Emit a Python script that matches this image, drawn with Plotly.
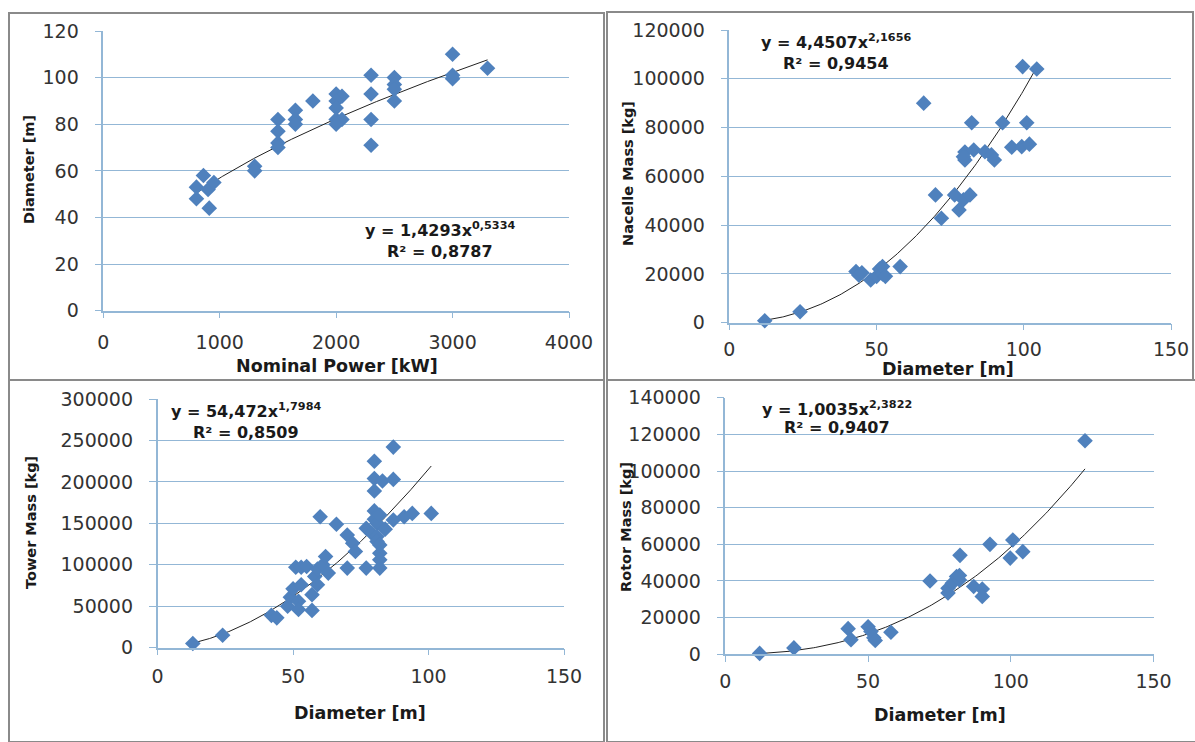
import numpy as np
import plotly.graph_objects as go

# ---------------- data ----------------
power_kw = [800, 800, 860, 900, 910, 950, 1300, 1300, 1500, 1500, 1500, 1500,
            1650, 1650, 1650, 1800, 2000, 2050, 2000, 2000, 2000, 2050, 2000,
            2300, 2300, 2300, 2300, 2500, 2500, 2500, 2500, 3000, 3000, 3000, 3300]
power_diam = [48, 53, 58, 52, 44, 55, 62, 60, 82, 77, 72, 70,
              86, 82, 80, 90, 93, 92, 90, 87, 82, 82, 80,
              101, 93, 82, 71, 100, 97, 95, 90, 110, 101, 99.5, 104]

nacelle_diam = [12, 24, 43, 44, 45, 48, 50, 51, 52, 52, 53, 58, 66, 70, 72, 76.5,
                78, 79.5, 80, 80, 79.5, 81.7, 82.3, 83, 86.8, 89, 90, 92.8, 95.9,
                99.3, 101.9, 101, 99.6, 104.4]
nacelle_mass = [800, 4500, 21000, 19500, 20500, 17500, 19000, 22000, 20000, 23000,
                19000, 23000, 90000, 52400, 42800, 52400, 46200, 50400, 70000, 66700,
                68000, 52400, 82000, 70800, 70100, 68800, 66700, 82000, 71900, 72200,
                73200, 82000, 105000, 104000]

tower_diam = [13, 24, 42, 44, 48, 49, 50, 51, 52, 52, 53, 53, 55, 57, 57, 58, 59, 59,
              60, 61, 62, 63, 66, 70, 70, 72, 73, 77, 77, 79, 80, 80, 80, 80, 80, 81,
              81, 81, 82, 82, 82, 82, 82, 83, 84, 87, 87, 87, 91, 94, 101]
tower_mass = [5000, 15000, 39000, 36000, 50000, 61000, 71000, 97000, 56000, 46000,
              76000, 97000, 98000, 45000, 64000, 86000, 76000, 95000, 158000, 100000,
              110000, 90000, 149000, 136000, 96000, 126000, 116000, 96000, 144000,
              138000, 225000, 204000, 189000, 165000, 155000, 150000, 134000, 128000,
              124000, 114000, 106000, 96000, 160000, 201000, 143000, 242000, 203000,
              154000, 158000, 162000, 162000]

rotor_diam = [12, 24, 43, 44, 50, 51, 52, 52.5, 58, 71.7, 78, 78, 79.5, 81, 82, 82,
              82.2, 87, 90, 90, 92.7, 99.8, 100.7, 104.2, 126]
rotor_mass = [500, 3500, 14000, 8000, 15000, 12500, 9000, 7500, 12000, 40000, 33500,
              36000, 38700, 42400, 40600, 43000, 54000, 37000, 35600, 31600, 60000,
              52500, 62400, 56000, 116500]

# trend-line coefficients shown on the chart (y = a * x^b)
fit_power = (1.4293, 0.5334)
fit_nacelle = (4.4507, 2.1656)
fit_tower = (54.472, 1.7984)
fit_rotor = (1.0035, 2.3822)

eq_texts = [
    ("y = 1,4293x<sup>0,5334</sup>", "R² = 0,8787"),
    ("y = 4,4507x<sup>2,1656</sup>", "R² = 0,9454"),
    ("y = 54,472x<sup>1,7984</sup>", "R² = 0,8509"),
    ("y = 1,0035x<sup>2,3822</sup>", "R² = 0,9407"),
]
x_titles = ["Nominal Power [kW]", "Diameter [m]", "Diameter [m]", "Diameter [m]"]
y_titles = ["Diameter [m]", "Nacelle Mass [kg]", "Tower Mass [kg]", "Rotor Mass [kg]"]

# ---------------- layout geometry (pixels) ----------------
W, H = 1195, 742
def px(x):
    return x / W
def py(y):
    return 1 - y / H

MARK = "#4F81BD"
GRID = "#93B7D6"
TXT = "#1a1a1a"
FONT = "DejaVu Sans"

panels = [
    dict(data=(power_kw, power_diam), fit=fit_power,
         xd=(103.3, 569), yd=(310.7, 31), xr=(0, 4000), yr=(0, 120), dx=1000, dy=20,
         eq=(440, 229, 252), xt=(337, 366), yt=(29, 170), xso=8),
    dict(data=(nacelle_diam, nacelle_mass), fit=fit_nacelle,
         xd=(729.4, 1171), yd=(322.7, 30), xr=(0, 150), yr=(0, 120000), dx=50, dy=20000,
         eq=(836, 42, 64), xt=(948, 369), yt=(628, 174), xso=3),
    dict(data=(tower_diam, tower_mass), fit=fit_tower,
         xd=(157.6, 564), yd=(647.7, 399), xr=(0, 150), yr=(0, 300000), dx=50, dy=50000,
         eq=(246, 410, 432), xt=(360, 713), yt=(31, 523), xso=5),
    dict(data=(rotor_diam, rotor_mass), fit=fit_rotor,
         xd=(725.4, 1153.5), yd=(654.3, 397.7), xr=(0, 150), yr=(0, 140000), dx=50, dy=20000,
         eq=(837, 408, 428), xt=(940, 715), yt=(626, 527), xso=3),
]

fig = go.Figure()
layout = dict(width=W, height=H,
              margin=dict(l=0, r=0, t=0, b=0, pad=0, autoexpand=False),
              paper_bgcolor="white", plot_bgcolor="white", showlegend=False,
              font=dict(family=FONT, color=TXT))
annotations = []
shapes = []

for i, p in enumerate(panels):
    n = "" if i == 0 else str(i + 1)
    xa, ya = "x" + n, "y" + n
    xs, ys = p["data"]
    a, b = p["fit"]
    xf = np.linspace(min(xs), max(xs), 200)
    yf = a * xf ** b
    fig.add_trace(go.Scatter(x=xf, y=yf, mode="lines", xaxis=xa, yaxis=ya,
                             line=dict(color="#222222", width=1), hoverinfo="skip"))
    fig.add_trace(go.Scatter(x=xs, y=ys, mode="markers", xaxis=xa, yaxis=ya,
                             cliponaxis=False,
                             marker=dict(symbol="diamond", size=12, color=MARK,
                                         line=dict(width=0))))
    layout["xaxis" + n] = dict(
        domain=[px(p["xd"][0]), px(p["xd"][1])], range=list(p["xr"]), anchor=ya,
        automargin=False,
        dtick=p["dx"], tick0=0, showgrid=False, zeroline=False, showline=True,
        linecolor=GRID, linewidth=1.5, ticks="outside", ticklen=6, tickcolor=GRID,
        tickfont=dict(size=19, family=FONT, color="#333333"), ticklabelstandoff=p["xso"],
        tickformat="d")
    layout["yaxis" + n] = dict(
        domain=[py(p["yd"][0]), py(p["yd"][1])], range=list(p["yr"]), anchor=xa,
        automargin=False,
        dtick=p["dy"], tick0=0, showgrid=True, gridcolor=GRID, gridwidth=1.2,
        zeroline=False, showline=True, linecolor=GRID, linewidth=1.5,
        ticks="outside", ticklen=7, tickcolor=GRID,
        tickfont=dict(size=19, family=FONT, color="#333333"), ticklabelstandoff=12,
        tickformat="d")
    ex, ey1, ey2 = p["eq"]
    annotations.append(dict(xref="paper", yref="paper", x=px(ex), y=py(ey1),
                            text="<b>" + eq_texts[i][0] + "</b>", showarrow=False,
                            xanchor="center", yanchor="middle",
                            font=dict(size=16, family=FONT, color=TXT)))
    annotations.append(dict(xref="paper", yref="paper", x=px(ex), y=py(ey2),
                            text="<b>" + eq_texts[i][1] + "</b>", showarrow=False,
                            xanchor="center", yanchor="middle",
                            font=dict(size=16, family=FONT, color=TXT)))
    annotations.append(dict(xref="paper", yref="paper", x=px(p["xt"][0]), y=py(p["xt"][1]),
                            text="<b>" + x_titles[i] + "</b>", showarrow=False,
                            xanchor="center", yanchor="middle",
                            font=dict(size=17.5, family=FONT, color=TXT)))
    annotations.append(dict(xref="paper", yref="paper", x=px(p["yt"][0]), y=py(p["yt"][1]),
                            text="<b>" + y_titles[i] + "</b>", showarrow=False,
                            textangle=-90, xanchor="center", yanchor="middle",
                            font=dict(size=14.5, family=FONT, color=TXT)))

# panel frames
frames = [(9, 13, 604, 380), (607, 12, 1193, 380), (9, 380, 604, 742), (607, 380, 1196, 742)]
for (x0, y0, x1, y1) in frames:
    shapes.append(dict(type="rect", xref="paper", yref="paper",
                       x0=px(x0), x1=px(x1), y0=py(y1), y1=py(y0),
                       line=dict(color="#8a8a8a", width=2), fillcolor="rgba(0,0,0,0)"))

layout["annotations"] = annotations
layout["shapes"] = shapes
fig.update_layout(**layout)
fig.write_html("out.html", config={"displayModeBar": False},
               post_script="document.body.style.margin='0';document.body.style.overflow='hidden';")
